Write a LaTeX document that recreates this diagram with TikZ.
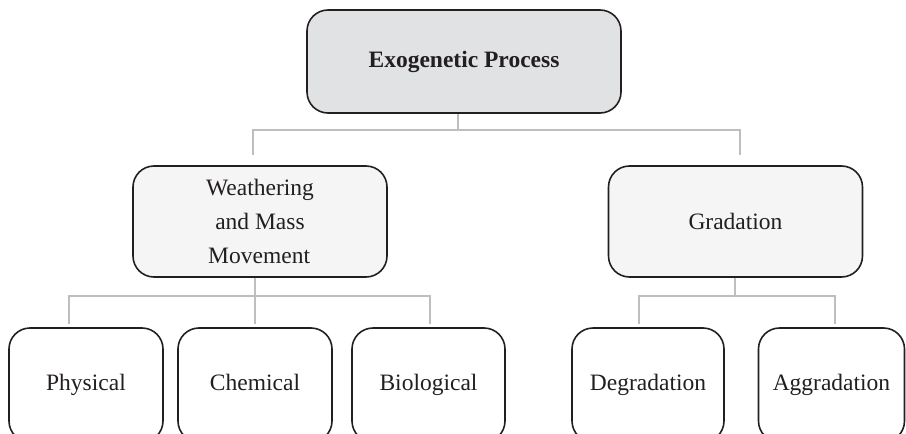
\documentclass[tikz,border=0pt]{standalone}
\usepackage{fontspec}
\setmainfont{Liberation Serif}
\definecolor{ink}{HTML}{231F20}
\definecolor{linegray}{HTML}{BCBEC0}
\definecolor{topfill}{HTML}{E1E2E3}
\definecolor{midfill}{HTML}{F5F5F5}
\begin{document}
\begin{tikzpicture}[x=1pt,y=-1pt,
  box/.style={draw=ink, line width=1.6pt, rounded corners=21pt, text=ink,
    font=\fontsize{23.5}{34}\selectfont, align=center, inner sep=0pt},
  leaf/.style={box, fill=white, minimum height=114pt, text height=16pt, text depth=5pt},
  conn/.style={draw=linegray, line width=1.5pt}]
\useasboundingbox (0,0) rectangle (906,434);
\clip (0,0) rectangle (906,434);
\node[box, fill=topfill, minimum width=314pt, minimum height=103pt,
  font=\fontsize{23.5}{34}\selectfont\bfseries] (top) at (464,61.5) {Exogenetic Process};
\node[box, fill=midfill, minimum width=254pt, minimum height=111pt] (wm) at (260,221.5)
  {Weathering\\and Mass\\Movement\hspace*{-10pt}\phantom{x}};
\node[box, fill=midfill, minimum width=254pt, minimum height=111pt] (gr) at (735.5,221.5) {Gradation};
\node[leaf, minimum width=154pt] (ph) at (86,385) {Physical};
\node[leaf, minimum width=154pt] (ch) at (255,385) {Chemical};
\node[leaf, minimum width=153pt] (bi) at (428.5,385) {Biological};
\node[leaf, minimum width=152pt] (de) at (648,385) {Degradation};
\node[leaf, minimum width=146pt] (ag) at (831.5,385) {Aggradation};
% junctions
\coordinate (j1) at (458,130);
\coordinate (j2) at (255,296);
\coordinate (j3) at (735,296);
% level 1
\draw[conn] (top.south -| j1) -- (j1);
\draw[conn, shorten <=10pt] ([xshift=-7pt]wm.north) |- (j1);
\draw[conn, shorten <=10pt] ([xshift=4.5pt]gr.north) |- (j1);
% level 2
\draw[conn] (wm.south -| j2) -- (j2);
\draw[conn, shorten <=3pt] ([xshift=-17pt]ph.north) |- (j2);
\draw[conn, shorten <=3pt] (ch.north) -- (j2);
\draw[conn, shorten <=3pt] ([xshift=1.5pt]bi.north) |- (j2);
% level 3
\draw[conn] (gr.south -| j3) -- (j3);
\draw[conn, shorten <=3pt] ([xshift=-9pt]de.north) |- (j3);
\draw[conn, shorten <=3pt] ([xshift=3.5pt]ag.north) |- (j3);
\end{tikzpicture}
\end{document}
